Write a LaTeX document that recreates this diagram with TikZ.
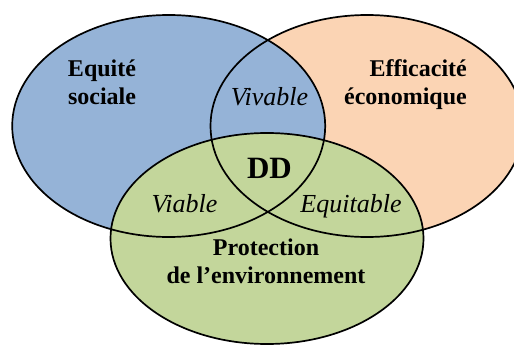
\documentclass[tikz,border=0pt]{standalone}
\usepackage{fontspec}
\setmainfont{Liberation Serif}
\definecolor{cblue}{HTML}{95B3D7}
\definecolor{corange}{HTML}{FBD4B4}
\definecolor{cgreen}{HTML}{C3D69B}
\tikzset{
  circ/.style={line width=1.7pt, draw=black},
  mainlbl/.style={font=\fontsize{24}{28}\selectfont\bfseries, inner sep=0pt},
  interlbl/.style={font=\fontsize{26}{30}\selectfont\itshape, inner sep=0pt},
  ddlbl/.style={font=\fontsize{31}{36}\selectfont\bfseries, inner sep=0pt}
}
\begin{document}
\begin{tikzpicture}[x=1pt,y=-1pt]
\useasboundingbox (0,0) rectangle (514,345);
\clip (0,0) rectangle (514,345);
% fills
\fill[corange] (367,126) ellipse [x radius=156.5, y radius=111];
\fill[cblue] (168.7,126) ellipse [x radius=156.5, y radius=111];
\fill[cgreen] (267,238.5) ellipse [x radius=156.5, y radius=105.5];
% outlines
\draw[circ] (367,126) ellipse [x radius=156.5, y radius=111];
\draw[circ] (168.7,126) ellipse [x radius=156.5, y radius=111];
\draw[circ] (267,238.5) ellipse [x radius=156.5, y radius=105.5];
% labels
\node[mainlbl, align=center, anchor=base] (soc) at (102,104) {Equité\\sociale};
\node[mainlbl, align=right, anchor=base east] (eco) at (467,104) {Efficacité\\économique};
\node[mainlbl, align=center, anchor=base] (env) at (266,283) {Protection\\de l’environnement};
\node[interlbl, anchor=base] (viv) at (269.5,105) {Vivable};
\node[interlbl, anchor=base] (via) at (184.5,212) {Viable};
\node[interlbl, anchor=base] (equ) at (351,212) {Equitable};
\node[ddlbl, anchor=base] (dd) at (269.5,178) {DD};
\end{tikzpicture}
\end{document}
